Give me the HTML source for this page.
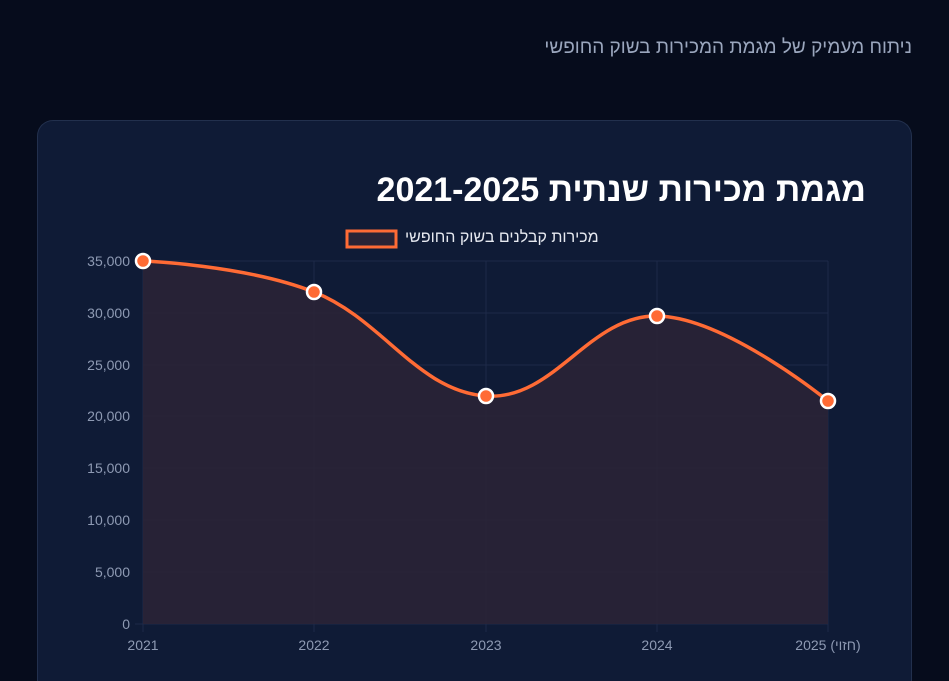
<!DOCTYPE html>
<html style="width:949px;height:681px;overflow:hidden"><head><meta charset="utf-8"><style>
body{margin:0;width:949px;height:681px;overflow:hidden;background:#060c1c;font-family:"Liberation Sans","Noto Sans CJK SC",sans-serif;position:relative}
.sub{position:absolute;right:37px;top:37px;color:#9aa6bd;font-size:19px;direction:rtl;white-space:nowrap}
.card{position:absolute;left:37px;top:120px;width:873px;height:561px;background:#0f1b36;border:1px solid #22304d;border-bottom:none;border-radius:16px 16px 0 0}
.title{position:absolute;right:83px;top:171px;color:#fff;font-size:34px;font-weight:bold;direction:rtl;white-space:nowrap}
.leg{position:absolute;left:405px;top:229px;color:#e6e9f0;font-size:16px;direction:rtl;white-space:nowrap}
</style></head><body>
<div class="sub">ניתוח מעמיק של מגמת המכירות בשוק החופשי</div>
<div class="card"></div>
<div class="title">מגמת מכירות שנתית 2021-2025</div>
<div class="leg">מכירות קבלנים בשוק החופשי</div>
<svg width="949" height="681" style="position:absolute;left:0;top:0" font-family="Liberation Sans, sans-serif">
<rect x="347" y="231" width="49" height="16" fill="#2a2436" stroke="#ff6b35" stroke-width="3"/>
<g stroke="#1d2a48" stroke-width="1">
<line x1="143" y1="261" x2="828" y2="261"/><line x1="143" y1="313" x2="828" y2="313"/><line x1="143" y1="365" x2="828" y2="365"/><line x1="143" y1="416" x2="828" y2="416"/><line x1="143" y1="468" x2="828" y2="468"/><line x1="143" y1="520" x2="828" y2="520"/><line x1="143" y1="572" x2="828" y2="572"/><line x1="135" y1="624" x2="828" y2="624"/>
<line x1="143" y1="261" x2="143" y2="632"/><line x1="314" y1="261" x2="314" y2="632"/><line x1="486" y1="261" x2="486" y2="632"/><line x1="657" y1="261" x2="657" y2="632"/><line x1="828" y1="261" x2="828" y2="632"/>
</g>
<path d="M143,261 C143,261 245.4,265 314,292 C382.6,319 417.4,391.2 486,396 C554.6,400.8 588.6,315 657,316 C725.4,317 828,401 828,401 L828,624 L143,624 Z" fill="#2a2436" fill-opacity="0.9"/>
<path d="M143,261 C143,261 245.4,265 314,292 C382.6,319 417.4,391.2 486,396 C554.6,400.8 588.6,315 657,316 C725.4,317 828,401 828,401" fill="none" stroke="#ff6b35" stroke-width="3.5"/>
<g fill="#ff6b35" stroke="#fff" stroke-width="2.5">
<circle cx="143" cy="261" r="7"/><circle cx="314" cy="292" r="7"/><circle cx="486" cy="396" r="7"/><circle cx="657" cy="316" r="7"/><circle cx="828" cy="401" r="7"/>
</g>
<g fill="#8e9ab3" font-size="14" text-anchor="end">
<text x="130" y="266">35,000</text><text x="130" y="318">30,000</text><text x="130" y="370">25,000</text><text x="130" y="421">20,000</text><text x="130" y="473">15,000</text><text x="130" y="525">10,000</text><text x="130" y="577">5,000</text><text x="130" y="629">0</text>
</g>
<g fill="#8e9ab3" font-size="14" text-anchor="middle">
<text x="143" y="650">2021</text><text x="314" y="650">2022</text><text x="486" y="650">2023</text><text x="657" y="650">2024</text><text x="828" y="650">2025 (חזוי)</text>
</g>
</svg>
</body></html>
